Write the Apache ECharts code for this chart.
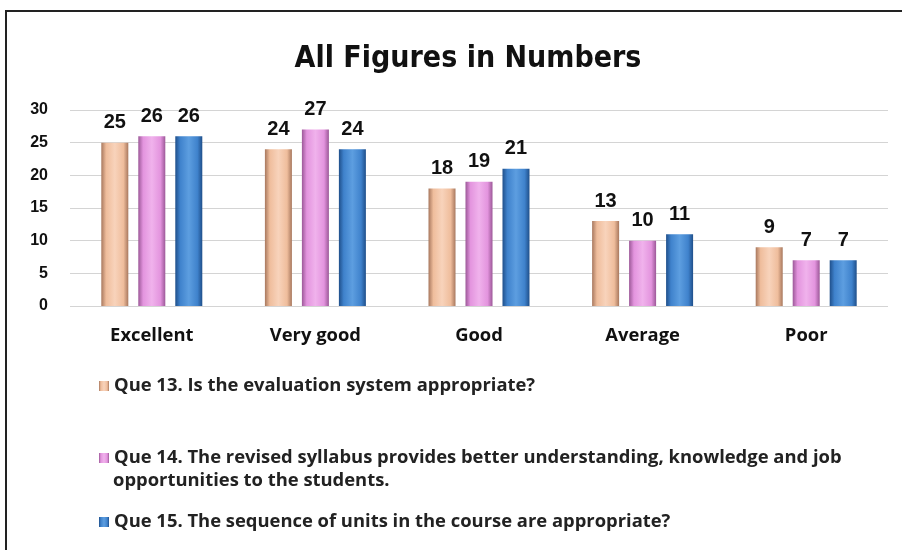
<!DOCTYPE html>
<html><head><meta charset="utf-8">
<script src="https://cdn.jsdelivr.net/npm/echarts@6/dist/echarts.min.js"></script>
<style>html,body{margin:0;padding:0;background:#fff}#c{width:902px;height:550px}</style>
</head><body><div id="c"></div>
<script>
const categories = ['Excellent', 'Very good', 'Good', 'Average', 'Poor'];
const seriesNames = [
  'Que 13. Is the evaluation system appropriate?',
  'Que 14. The revised syllabus provides better understanding, knowledge and job',
  'Que 15. The sequence of units in the course are appropriate?'
];
const q14Continuation = 'opportunities to the students.';
const q13 = [25, 24, 18, 13, 9];
const q14 = [26, 27, 19, 10, 7];
const q15 = [26, 24, 21, 11, 7];
const yTicks = [0, 5, 10, 15, 20, 25, 30];

const chart = echarts.init(document.getElementById('c'));
function grad(edge, mid, light) {
  return new echarts.graphic.LinearGradient(0, 0, 1, 0, [
    {offset: 0, color: edge}, {offset: 0.18, color: mid}, {offset: 0.5, color: light},
    {offset: 0.82, color: mid}, {offset: 1, color: edge}
  ]);
}
const colors = [
  grad('#a8785e', '#efbd9c', '#f8d3bb'),
  grad('#9c5898', '#e394de', '#f0b2ec'),
  grad('#1f4f8a', '#3f82cc', '#5d9ee0')
];
const data = [q13, q14, q15];
const titleFont = 'DejaVu Sans Condensed, sans-serif';
const txtFont = 'Open Sans, sans-serif';
const legendTops = [372, 444, 508];
const legendSize = 18.4;
chart.setOption({
  animation: false,
  title: {text: 'All Figures in Numbers', left: 463, top: 39, textAlign: 'center',
    textStyle: {fontSize: 30, fontWeight: 'bold', color: '#111', fontFamily: titleFont}},
  graphic: [
    {type: 'rect', shape: {x: 6, y: 11, width: 898, height: 545},
      style: {fill: 'none', stroke: '#222', lineWidth: 2}, silent: true},
    {type: 'text', left: 113, top: 472, silent: true,
      style: {text: q14Continuation, fontSize: legendSize, fontWeight: 'bold', fill: '#222', fontFamily: txtFont}}
  ],
  legend: seriesNames.map((n, i) => ({
    data: [n], orient: 'vertical', left: 94, top: legendTops[i], itemWidth: 10, itemHeight: 10,
    icon: 'rect', selectedMode: false, itemGap: 7,
    textStyle: {fontSize: legendSize, fontWeight: 'bold', color: '#222', fontFamily: txtFont}
  })),
  grid: {left: 70, right: 14, top: 110, bottom: 244},
  xAxis: {type: 'category', data: categories,
    axisLine: {show: false}, axisTick: {show: false},
    axisLabel: {fontSize: 18.4, fontWeight: 'bold', color: '#111', margin: 21, fontFamily: txtFont}},
  yAxis: {type: 'value', min: 0, max: 30, interval: 5,
    axisLabel: {fontSize: 16, fontWeight: 'bold', color: '#111', margin: 22, fontFamily: 'Liberation Sans, Arial, sans-serif'},
    splitLine: {lineStyle: {color: '#d4d4d4', width: 1}},
    axisLine: {show: false}, axisTick: {show: false}},
  series: data.map((d, i) => ({
    name: seriesNames[i], type: 'bar', data: d, barWidth: 27, barGap: '37%',
    itemStyle: {color: colors[i]},
    label: {show: true, position: 'top', distance: 10, fontSize: 20, fontWeight: 'bold', color: '#111',
      fontFamily: 'Liberation Sans, Arial, sans-serif'}
  }))
});
</script></body></html>
